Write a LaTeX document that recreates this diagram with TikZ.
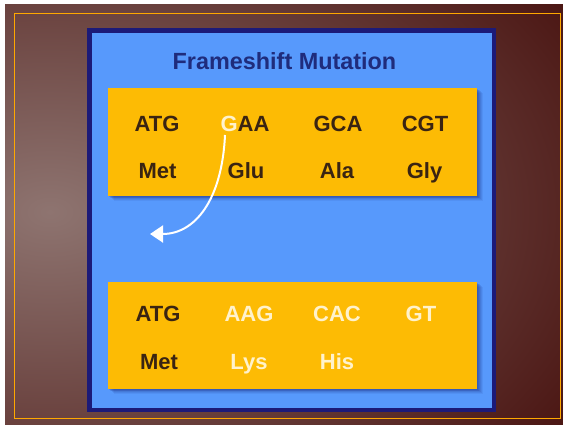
\documentclass[tikz,border=0pt]{standalone}
\usepackage{fontspec}
\setmainfont{Liberation Sans}
\usetikzlibrary{arrows.meta}
\definecolor{bgdark}{HTML}{4A1512}
\definecolor{bglight}{HTML}{8E7470}
\definecolor{frameor}{HTML}{FFA800}
\definecolor{navy}{HTML}{1C1A78}
\definecolor{panelblue}{HTML}{5799FC}
\definecolor{boxorange}{HTML}{FDBB04}
\definecolor{shadowblue}{HTML}{1A2A80}
\definecolor{titleblue}{HTML}{1F2C7C}
\definecolor{darktext}{HTML}{3A2412}
\definecolor{creamtext}{HTML}{FFF2CC}
\tikzset{
  codon/.style={anchor=base, text=darktext, font=\fontsize{22}{22}\selectfont\bfseries, inner sep=0pt},
  codonw/.style={codon, text=creamtext},
  seqbox/.style={fill=boxorange, draw=none},
}
\begin{document}
\begin{tikzpicture}[x=1pt,y=-1pt]
\useasboundingbox (0,0) rectangle (563,424);
\fill[white] (0,0) rectangle (563,424);
% background
\begin{scope}
\clip (5,4) rectangle (563,424);
\fill[bgdark] (5,4) rectangle (563,424);
\shade[inner color=bglight, outer color=bgdark] (50,212) ellipse (620 and 400);
\end{scope}
\draw[frameor, line width=0.9pt] (14,13.5) rectangle (560,418.5);
% panel
\draw[navy, fill=panelblue, line width=4.5pt] (89.5,30.5) rectangle (494,410);
\node[font=\fontsize{23.4}{23.4}\selectfont\bfseries, text=titleblue, anchor=base, inner sep=0pt] (title) at (284.5,69) {Frameshift Mutation};
% shadows
\foreach \b/\t in {88/196, 282/389}{
  \foreach \i/\o in {1/0.14, 2/0.14, 3/0.13, 4/0.12, 5/0.10, 6/0.08}{
    \fill[shadowblue, opacity=\o] (108+\i,\b+\i*0.8) rectangle (477+\i,\t+\i*0.8);
  }
}
\node[seqbox, minimum width=369pt, minimum height=108pt, anchor=north west, inner sep=0pt] (box1) at (108,88) {};
\node[seqbox, minimum width=369pt, minimum height=107pt, anchor=north west, inner sep=0pt] (box2) at (108,282) {};
% row 1
\node[codon] (a1) at (157,131) {ATG};
\node[codon] (a2) at (245,131) {\textcolor{creamtext}{G}AA};
\node[codon] (a3) at (338,131) {GCA};
\node[codon] (a4) at (425,131) {CGT};
\node[codon] (b1) at (157.5,178) {Met};
\node[codon] (b2) at (246,178) {Glu};
\node[codon] (b3) at (337,178) {Ala};
\node[codon] (b4) at (424.5,178) {Gly};
% row 2
\node[codon] (c1) at (158,321.5) {ATG};
\node[codonw] (c2) at (249,321.5) {AAG};
\node[codonw] (c3) at (337,321.5) {CAC};
\node[codonw] (c4) at (421,321.5) {GT};
\node[codon] (d1) at (159,369) {Met};
\node[codonw] (d2) at (249,369) {Lys};
\node[codonw] (d3) at (337,369) {His};
% arrow
\coordinate (gstart) at (225,135);
\coordinate (tip) at (150,234);
\draw[white, line width=2pt, -{Triangle[length=13pt,width=17pt]}] (gstart) .. controls (222,200) and (195,234) .. (tip);
\end{tikzpicture}
\end{document}
